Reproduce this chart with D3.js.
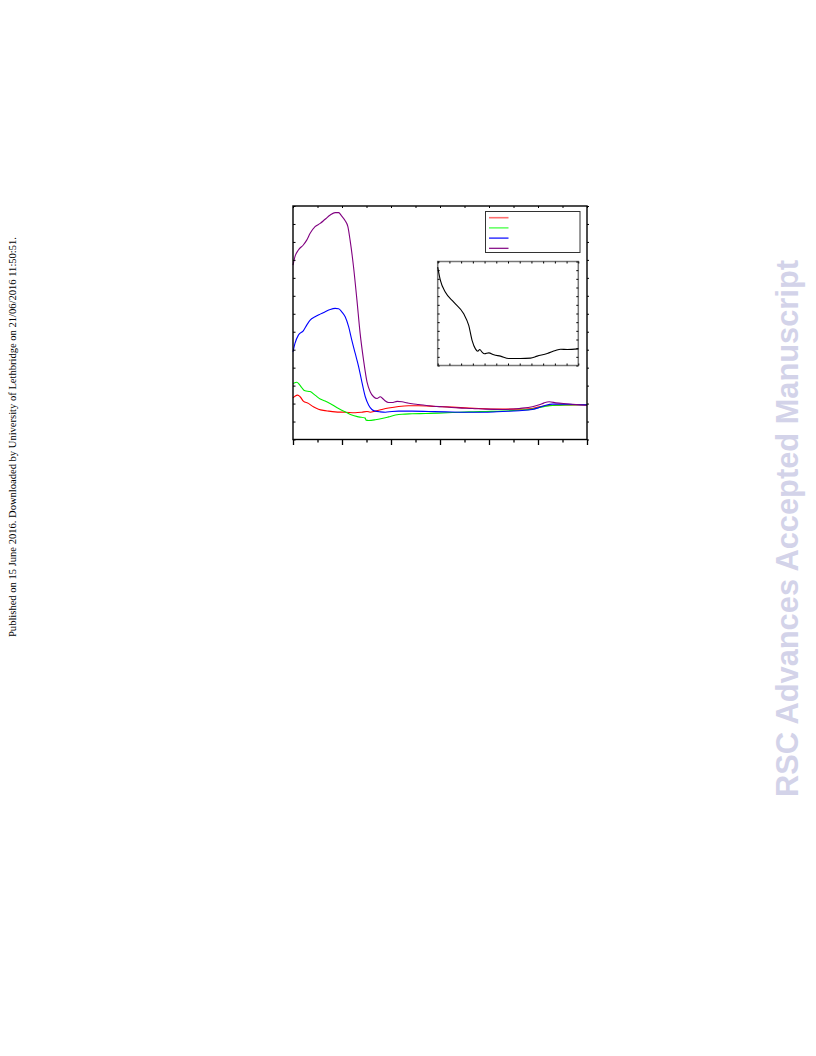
<!DOCTYPE html>
<html><head><meta charset="utf-8">
<script src="https://cdn.jsdelivr.net/npm/d3@7"></script>
<style>html,body{margin:0;padding:0;background:#fff;}svg{display:block;}</style>
</head><body>
<script>
// ---- data (abstract units) ----
const seriesNames = ["red", "green", "blue", "purple"];
const seriesColors = ["#ff0000", "#00ee00", "#0000ff", "#800080"];
const legendColors = ["#ff6f6f", "#33ff33", "#0000ff", "#800080"];

const redX = [0,0.08,0.19,0.29,0.42,0.63,0.83,1.04,1.24,1.45,1.72,2.13,2.54,2.81,3.02,3.15,3.36,3.63,3.90,4.31,4.72,5.13,5.82,6.50,7.18,7.86,8.55,9.23,9.77,10.05,10.46,10.87,11.41,12];
const redY = [2.32,2.41,2.47,2.38,2.14,2.01,1.82,1.69,1.62,1.58,1.54,1.52,1.49,1.52,1.56,1.52,1.58,1.67,1.75,1.84,1.88,1.88,1.84,1.80,1.75,1.71,1.69,1.69,1.73,1.82,1.89,1.91,1.93,1.93];

const greenX = [0,0.08,0.16,0.25,0.35,0.49,0.70,0.90,1.11,1.31,1.58,1.86,2.13,2.40,2.68,2.95,2.98,3.09,3.36,3.63,3.90,4.18,4.45,4.86,5.41,5.95,6.50,7.18,7.86,8.55,9.23,9.77,10.05,10.32,10.73,11.28,12];
const greenY = [3.12,3.16,3.19,3.08,2.90,2.71,2.67,2.47,2.25,2.14,1.95,1.73,1.54,1.36,1.26,1.19,1.08,1.06,1.10,1.17,1.26,1.36,1.41,1.43,1.45,1.47,1.50,1.54,1.56,1.58,1.63,1.69,1.78,1.86,1.91,1.93,1.95];

const blueX = [0,0.08,0.22,0.42,0.56,0.70,0.90,1.11,1.31,1.52,1.72,1.86,1.99,2.13,2.27,2.40,2.54,2.68,2.81,2.95,3.09,3.22,3.36,3.56,3.77,4.04,4.31,4.86,5.54,6.23,7.04,7.86,8.55,9.23,9.77,10.05,10.32,10.59,11.00,11.41,12];
const blueY = [4.88,5.35,5.81,6.05,6.37,6.65,6.83,6.98,7.11,7.24,7.30,7.28,7.11,6.83,6.28,5.53,4.79,4.05,3.21,2.38,1.91,1.67,1.58,1.54,1.52,1.56,1.58,1.58,1.56,1.54,1.52,1.52,1.56,1.60,1.67,1.78,1.91,1.97,1.97,1.95,1.93];

const purpleX = [0,0.08,0.22,0.42,0.56,0.70,0.90,1.11,1.31,1.52,1.72,1.86,1.99,2.13,2.24,2.33,2.47,2.61,2.74,2.88,3.02,3.15,3.29,3.43,3.56,3.66,3.77,3.90,4.04,4.25,4.45,4.66,4.86,5.13,5.54,6.09,6.77,7.32,7.86,8.55,9.23,9.77,10.05,10.25,10.46,10.73,11.14,11.55,12];
const purpleY = [9.71,10.18,10.55,10.83,11.10,11.48,11.85,12.03,12.26,12.50,12.63,12.63,12.44,12.18,11.85,11.10,9.62,7.76,5.91,4.42,3.21,2.66,2.38,2.28,2.38,2.28,2.14,2.06,2.06,2.12,2.10,2.04,1.99,1.95,1.88,1.82,1.76,1.73,1.69,1.67,1.73,1.82,1.93,2.04,2.10,2.04,1.99,1.95,1.91];

const insetX = [0,0.23,0.66,1.37,2.22,2.65,2.94,3.22,3.42,3.59,3.79,3.99,4.36,4.79,5.36,6.07,7.07,7.92,8.49,9.35,10.06,10.49,11.06,12];
const insetY = [11.35,9.81,8.46,7.31,5.96,4.62,2.88,1.92,1.65,1.85,1.54,1.35,1.46,1.23,1.08,0.81,0.81,0.85,1.08,1.38,1.73,1.88,1.85,1.92];

const mainXTicks = d3.range(0, 13, 1);
const mainYTicks = d3.range(0, 14, 1);
const insetXTicks = d3.range(0, 13, 1);
const insetYTicks = d3.range(0, 13, 1);

const sideNote = "Published on 15 June 2016. Downloaded by University of Lethbridge on 21/06/2016 11:50:51.";
const watermark = "RSC Advances Accepted Manuscript";

// ---- drawing ----
const W = 816, H = 1056;
const svg = d3.select("body").append("svg").attr("width", W).attr("height", H);

// side texts
svg.append("text")
  .attr("transform", "translate(16,637) rotate(-90)")
  .attr("font-family", "Liberation Serif, Times New Roman, serif")
  .attr("font-size", 10).attr("fill", "#000")
  .attr("textLength", 400).attr("lengthAdjust", "spacingAndGlyphs")
  .text(sideNote);

svg.append("text")
  .attr("transform", "translate(798,797) rotate(-90)")
  .attr("font-family", "Liberation Sans, Arial, sans-serif")
  .attr("font-weight", "bold")
  .attr("font-size", 30.7).attr("fill", "#d3d3e9")
  .attr("textLength", 537).attr("lengthAdjust", "spacingAndGlyphs")
  .text(watermark);

// main scales
const x = d3.scaleLinear().domain([0, 12]).range([293, 587]);
const y = d3.scaleLinear().domain([0, 13]).range([439.5, 206]);

const g = svg.append("g");

const line = d3.line().curve(d3.curveMonotoneX);
const series = [
  [redX, redY], [greenX, greenY], [blueX, blueY], [purpleX, purpleY]
];
series.forEach(([xs, ys], i) => {
  g.append("path")
    .attr("d", line(xs.map((v, k) => [x(v), y(ys[k])])))
    .attr("fill", "none").attr("stroke", seriesColors[i]).attr("stroke-width", 1.1);
});

// main frame
g.append("rect")
  .attr("x", x(0)).attr("y", y(13))
  .attr("width", x(12) - x(0)).attr("height", y(0) - y(13))
  .attr("fill", "none").attr("stroke", "#000").attr("stroke-width", 1.4);

// bottom ticks (outside, major every 2)
g.append("g").attr("transform", `translate(0,${y(0)})`)
  .call(d3.axisBottom(x).tickValues(mainXTicks).tickFormat("").tickSizeOuter(0).tickSize(5))
  .call(s => s.select(".domain").remove())
  .call(s => s.selectAll(".tick line").attr("stroke-width", 1.3)
      .attr("y2", d => d % 2 === 0 ? 5.5 : 3));
// top ticks (inside)
g.append("g").attr("transform", `translate(0,${y(13)})`)
  .call(d3.axisBottom(x).tickValues(mainXTicks).tickFormat("").tickSizeOuter(0).tickSize(2))
  .call(s => s.select(".domain").remove());
// left ticks inside
g.append("g").attr("transform", `translate(${x(0)},0)`)
  .call(d3.axisRight(y).tickValues(mainYTicks).tickFormat("").tickSizeOuter(0).tickSize(2.5))
  .call(s => s.select(".domain").remove());
// right ticks outside
g.append("g").attr("transform", `translate(${x(12)},0)`)
  .call(d3.axisRight(y).tickValues(mainYTicks).tickFormat("").tickSizeOuter(0).tickSize(2))
  .call(s => s.select(".domain").remove());

// legend
const lg = g.append("g");
lg.append("rect").attr("x", 485.5).attr("y", 211.5).attr("width", 94.5).attr("height", 41)
  .attr("fill", "#fff").attr("stroke", "#333").attr("stroke-width", 1);
seriesNames.forEach((n, i) => {
  const yy = 217.7 + i * 10.2;
  lg.append("line").attr("x1", 489).attr("x2", 508.5).attr("y1", yy).attr("y2", yy)
    .attr("stroke", legendColors[i]).attr("stroke-width", i === 0 ? 1.6 : 1.2);
});

// inset
const xi = d3.scaleLinear().domain([0, 12]).range([437.7, 578.3]);
const yi = d3.scaleLinear().domain([0, 12]).range([365.5, 261.5]);
const ig = g.append("g");
ig.append("rect").attr("x", xi(0)).attr("y", yi(12))
  .attr("width", xi(12) - xi(0)).attr("height", yi(0) - yi(12))
  .attr("fill", "#fff").attr("stroke", "#777").attr("stroke-width", 1.5);
ig.append("path")
  .attr("d", line(insetX.map((v, k) => [xi(v), yi(insetY[k])])))
  .attr("fill", "none").attr("stroke", "#000").attr("stroke-width", 1.1);
ig.append("g").attr("transform", `translate(0,${yi(0)})`)
  .call(d3.axisTop(xi).tickValues(insetXTicks).tickFormat("").tickSizeOuter(0).tickSize(2))
  .call(s => s.select(".domain").remove());
ig.append("g").attr("transform", `translate(0,${yi(12)})`)
  .call(d3.axisBottom(xi).tickValues(insetXTicks).tickFormat("").tickSizeOuter(0).tickSize(2))
  .call(s => s.select(".domain").remove());
ig.append("g").attr("transform", `translate(${xi(0)},0)`)
  .call(d3.axisRight(yi).tickValues(insetYTicks).tickFormat("").tickSizeOuter(0).tickSize(2))
  .call(s => s.select(".domain").remove());
ig.append("g").attr("transform", `translate(${xi(12)},0)`)
  .call(d3.axisLeft(yi).tickValues(insetYTicks).tickFormat("").tickSizeOuter(0).tickSize(2))
  .call(s => s.select(".domain").remove());
</script>
</body></html>
